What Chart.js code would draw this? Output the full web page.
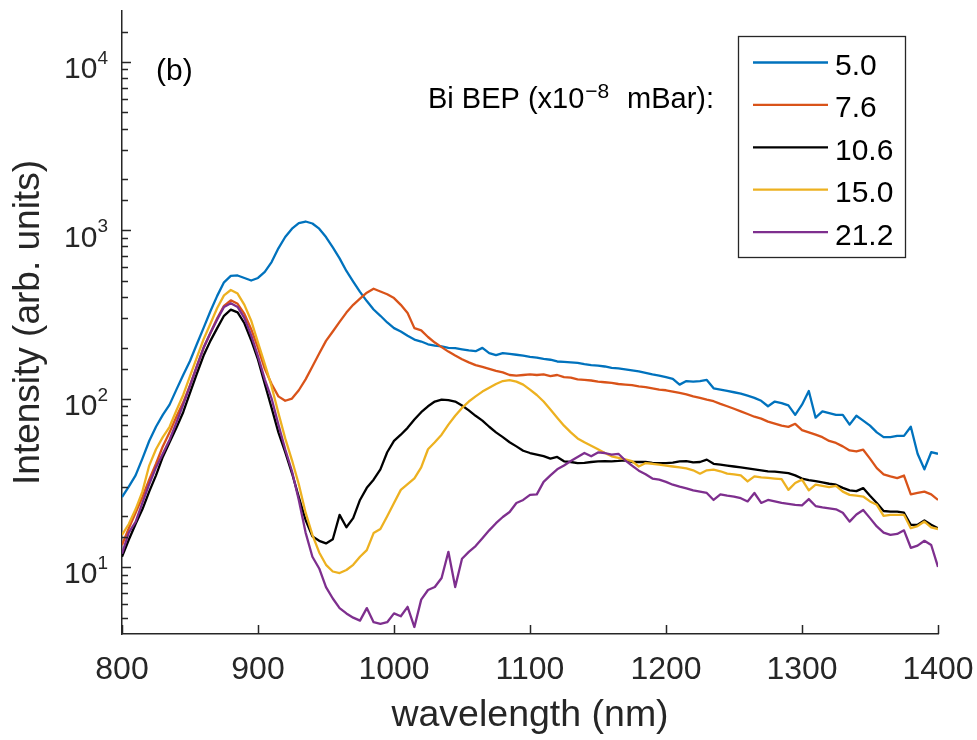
<!DOCTYPE html>
<html>
<head>
<meta charset="utf-8">
<title>PL spectra vs Bi BEP</title>
<script src="https://cdn.jsdelivr.net/npm/chart.js@4.4.0/dist/chart.umd.min.js"></script>
<style>
    html, body { margin: 0; padding: 0; background: #fff; }
</style>
</head>
<body>
<canvas id="myChart" width="977" height="740"></canvas>
<script>
// wavelength grid (nm)
const wavelength = [
    800, 805, 810, 815, 820, 825, 830, 835, 840, 845,
    850, 855, 860, 865, 870, 875, 880, 885, 890, 895,
    900, 905, 910, 915, 920, 925, 930, 935, 940, 945,
    950, 955, 960, 965, 970, 975, 980, 985, 990, 995,
    1000, 1005, 1010, 1015, 1020, 1025, 1030, 1035, 1040, 1045,
    1050, 1055, 1060, 1065, 1070, 1075, 1080, 1085, 1090, 1095,
    1100, 1105, 1110, 1115, 1120, 1125, 1130, 1135, 1140, 1145,
    1150, 1155, 1160, 1165, 1170, 1175, 1180, 1185, 1190, 1195,
    1200, 1205, 1210, 1215, 1220, 1225, 1230, 1235, 1240, 1245,
    1250, 1255, 1260, 1265, 1270, 1275, 1280, 1285, 1290, 1295,
    1300, 1305, 1310, 1315, 1320, 1325, 1330, 1335, 1340, 1345,
    1350, 1355, 1360, 1365, 1370, 1375, 1380, 1385, 1390, 1395,
    1400
];

const bepLabels = ['5.0', '7.6', '10.6', '15.0', '21.2'];
const bepColors = ['#0072BD', '#D95319', '#000000', '#EDB120', '#7E2F8E'];

// PL intensity (arb. units) for each Bi BEP
const bep50 = [
    26, 30, 35, 44, 56, 68, 80, 92, 113, 138,
    167, 210, 263, 330, 407, 490, 535, 538, 520, 502,
    520, 565, 646, 780, 910, 1020, 1100, 1125, 1095, 1020,
    910, 790, 680, 572, 495, 430, 379, 338, 310, 283,
    262, 250, 236, 224, 218, 210, 206, 204, 200, 199,
    196, 193, 191, 200, 186, 181, 186, 184, 182, 180,
    177, 175, 172, 170, 166, 165, 164, 163, 160, 158,
    157, 155, 152, 151, 149, 147, 145, 142, 139, 137,
    134, 131, 121, 127, 126, 127, 129, 115, 113, 111,
    109, 107, 104, 101, 97, 90, 96, 94, 91, 80,
    92, 111, 77, 84, 82, 80, 80, 70, 79, 74,
    69, 63, 59, 59, 60, 60, 68, 47, 38, 48,
    47
];
const bep76 = [
    13.5, 17, 21, 26, 33, 41, 52, 63, 78, 95,
    120, 155, 200, 245, 300, 355, 383, 365, 318, 258,
    200, 150, 122, 103, 97, 100, 112, 130, 155, 185,
    220, 250, 285, 324, 360, 392, 425, 449, 432, 416,
    395, 360, 322, 262, 254, 232, 215, 202, 190, 180,
    171, 164, 158, 154, 150, 146, 143, 138, 137, 138,
    139, 138, 139, 136, 138, 134, 133, 130, 129, 128,
    126, 125, 124, 122, 121, 120, 118, 117, 115, 113,
    112, 110, 108, 106, 103, 101, 98.5, 96.4, 93, 90,
    87, 84, 81, 78, 76, 73, 71, 69, 67.9, 70.8,
    65, 63, 61, 59, 56, 54.5, 52, 49.2, 48.5, 49.7,
    44, 38.6, 35.5, 34.5, 33.7, 34.9, 27, 27.5, 28, 27,
    25
];
const bep106 = [
    11.5, 14.5, 18, 22, 28, 35, 45, 55, 67, 83,
    108, 140, 180, 220, 262, 310, 337, 325, 280, 222,
    170, 122, 88, 63, 48, 36, 26, 19, 15.2, 14.3,
    13.8, 14.6, 20.4, 17.2, 19.5, 25, 29.5, 33, 38, 48,
    56, 61, 67, 75, 83, 90, 96, 98.6, 98, 96,
    91, 85, 79, 74, 68, 63, 59, 55, 52, 49,
    47.5, 46.5, 45.5, 44, 45, 42.4, 42, 41.4, 41.5, 42,
    42.4, 42.5, 42.4, 42.6, 43, 42, 42, 42, 41.5, 41.4,
    41.4, 41.6, 42.4, 42.5, 41.8, 42, 43.4, 41, 40.5, 40,
    39.5, 39, 38.5, 38, 37.5, 37, 36.8, 36.5, 36.1, 35,
    33.5, 32.8, 32.3, 31.8, 31.2, 30.8, 29.5, 28.5, 28.2, 29.4,
    26.5, 24, 21.5, 21.3, 21.3, 21, 17.8, 17.8, 18.9, 17.8,
    17
];
const bep150 = [
    15.5, 18, 22, 28, 40, 50, 59, 68, 85, 105,
    136, 175, 225, 278, 345, 410, 441, 420, 360, 290,
    215, 160, 118, 82, 58, 43, 31, 21, 15.5, 12.2,
    10.3, 9.4, 9.2, 9.6, 10.3, 11.5, 12.6, 15.9, 16.8, 20,
    24, 28.7, 31, 33.6, 39, 50, 55, 61, 70, 79,
    88, 96, 103, 110, 116, 122, 127, 128.5, 126, 121,
    113, 105, 96, 86, 77, 69, 63, 58, 55, 52.5,
    50, 47.5, 45.4, 44.5, 43.5, 42.5, 39.5, 41.4, 41, 40.5,
    40, 39.5, 39, 38.5, 37.5, 35.8, 37.5, 37.8, 37, 35.8,
    35.5, 35, 32.2, 34.5, 34, 33.8, 33.5, 33.2, 28.7, 31.5,
    33, 28.5, 30.8, 30.3, 29.8, 30.3, 28, 26.8, 26.5, 26.2,
    24.5, 23.4, 20.1, 20.4, 20.4, 20.4, 17, 17.5, 18.6, 17.2,
    16.8
];
const bep212 = [
    12, 16, 18.5, 24, 31, 39, 47, 57, 72, 92,
    119, 155, 200, 245, 295, 350, 368, 350, 300, 237,
    178, 130, 100, 70, 50, 37, 25, 16, 11.5, 9.8,
    7.6, 6.5, 5.7, 5.3, 5.0, 4.8, 5.7, 4.7, 4.6, 4.7,
    5.3, 5.1, 5.8, 4.4, 6.4, 7.3, 7.6, 8.6, 12.3, 7.6,
    11.2, 12.3, 13.3, 14.8, 16.5, 18.2, 19.8, 21.2, 24, 25,
    26.8, 27, 32, 35, 38, 40, 42.6, 45, 47.5, 45.4,
    47.9, 47.5, 46.4, 47, 43, 40, 37.3, 35.5, 33.5, 33,
    32, 30.8, 30, 29.3, 28.5, 28, 27.5, 25, 27, 26.5,
    26.2, 25.6, 24.5, 27.5, 24, 25, 24.5, 24, 23.7, 23.4,
    23.2, 25.3, 23, 22.6, 22.3, 22, 21, 18.6, 20.5, 21.8,
    19.5, 17.4, 16, 15.5, 15.7, 16.5, 13, 13.4, 14.3, 13.5,
    10
];
const seriesValues = [bep50, bep76, bep106, bep150, bep212];

const yMin = 4;
const yMax = 20000;
const FONT = '"Liberation Sans", Arial, Helvetica, sans-serif';
const INK = '#262626';

// inward tick marks, power-of-ten labels, legend box and annotations
const axisDecor = {
    id: 'axisDecor',
    afterDraw(chart) {
        const ctx = chart.ctx;
        const area = chart.chartArea;
        const xs = chart.scales.x;
        const ys = chart.scales.y;
        ctx.save();
        ctx.strokeStyle = INK;
        ctx.lineWidth = 1.5;
        ctx.beginPath();
        xs.ticks.forEach(t => {
            const px = Math.round(xs.getPixelForValue(t.value)) + 0.5;
            ctx.moveTo(px, area.bottom);
            ctx.lineTo(px, area.bottom - 9);
        });
        ys.ticks.forEach(t => {
            if (t.value <= yMin || t.value >= yMax) return;
            const py = Math.round(ys.getPixelForValue(t.value)) + 0.5;
            const dec = Math.log10(t.value);
            const major = Math.abs(dec - Math.round(dec)) < 1e-9;
            ctx.moveTo(area.left, py);
            ctx.lineTo(area.left + (major ? 9 : 6), py);
        });
        ctx.stroke();

        // y labels as 10^n
        ctx.fillStyle = INK;
        ys.ticks.forEach(t => {
            const dec = Math.log10(t.value);
            if (Math.abs(dec - Math.round(dec)) > 1e-9) return;
            const py = ys.getPixelForValue(t.value);
            const exp = String(Math.round(dec));
            ctx.font = '19px ' + FONT;
            const ew = ctx.measureText(exp).width;
            const right = area.left - 14;
            ctx.textAlign = 'left';
            ctx.textBaseline = 'alphabetic';
            ctx.fillText(exp, right - ew, py + 2);
            ctx.font = '30px ' + FONT;
            ctx.textAlign = 'right';
            ctx.fillText('10', right - ew, py + 16.5);
        });

        // panel tag
        ctx.font = '30px ' + FONT;
        ctx.textAlign = 'left';
        ctx.fillStyle = '#000';
        ctx.fillText('(b)', 156, 79.5);

        // legend title with superscript
        ctx.font = '29px ' + FONT;
        const p1 = 'Bi BEP (x10';
        ctx.fillText(p1, 428, 108);
        const x = 428 + ctx.measureText(p1).width;
        ctx.font = '21px ' + FONT;
        ctx.fillText('\u22128', x + 1, 98);
        ctx.font = '29px ' + FONT;
        ctx.fillText('mBar):', 627, 108);

        // legend box
        const box = { x: 738.5, y: 36.5, w: 167, h: 221 };
        ctx.fillStyle = '#fff';
        ctx.fillRect(box.x, box.y, box.w, box.h);
        ctx.strokeStyle = INK;
        ctx.lineWidth = 1.3;
        ctx.strokeRect(box.x, box.y, box.w, box.h);
        chart.data.datasets.forEach((ds, i) => {
            const ry = 62.5 + i * 42.4;
            ctx.strokeStyle = ds.borderColor;
            ctx.lineWidth = 2.3;
            ctx.beginPath();
            ctx.moveTo(753, ry);
            ctx.lineTo(828, ry);
            ctx.stroke();
            ctx.fillStyle = '#000';
            ctx.font = '30px ' + FONT;
            ctx.textAlign = 'left';
            ctx.fillText(ds.label, 835, ry + 12.5);
        });
        ctx.restore();
    }
};

const datasets = bepLabels.map((lab, i) => ({
    label: lab,
    data: seriesValues[i],
    borderColor: bepColors[i],
    backgroundColor: bepColors[i],
    borderWidth: 2.3,
    pointRadius: 0,
    tension: 0,
    fill: false,
    borderJoinStyle: 'round',
    order: bepLabels.length - i
}));

const config = {
    type: 'line',
    data: {
        labels: wavelength,
        datasets: datasets
    },
    options: {
        responsive: false,
        animation: false,
        devicePixelRatio: 1,
        layout: { padding: { top: 11, right: 39, left: 0, bottom: 0 } },
        plugins: {
            legend: { display: false },
            tooltip: { enabled: false }
        },
        scales: {
            x: {
                type: 'linear',
                min: 800,
                max: 1400,
                ticks: {
                    stepSize: 100,
                    maxRotation: 0,
                    padding: 17,
                    color: INK,
                    font: { family: FONT, size: 32 },
                    callback: v => String(v)
                },
                grid: { display: true, drawOnChartArea: false, drawTicks: false },
                border: { display: true, color: INK, width: 1.5 },
                title: {
                    display: true,
                    text: 'wavelength (nm)',
                    color: INK,
                    font: { family: FONT, size: 37.5 },
                    padding: { top: 0, bottom: 2 }
                },
                afterFit(scale) {
                    // the end labels fit in the margins, no extra side padding
                    scale.height = 106;
                    scale.paddingLeft = 0;
                    scale.paddingRight = 0;
                }
            },
            y: {
                type: 'logarithmic',
                min: yMin,
                max: yMax,
                ticks: { display: false },
                grid: { display: true, drawOnChartArea: false, drawTicks: false },
                border: { display: true, color: INK, width: 1.5 },
                title: {
                    display: true,
                    text: 'Intensity (arb. units)',
                    color: INK,
                    font: { family: FONT, size: 37 },
                    padding: { top: 7, bottom: 0 }
                },
                afterFit(scale) { scale.width = 122; }
            }
        }
    },
    plugins: [axisDecor]
};

const myChart = new Chart(document.getElementById('myChart'), config);
</script>
</body>
</html>
